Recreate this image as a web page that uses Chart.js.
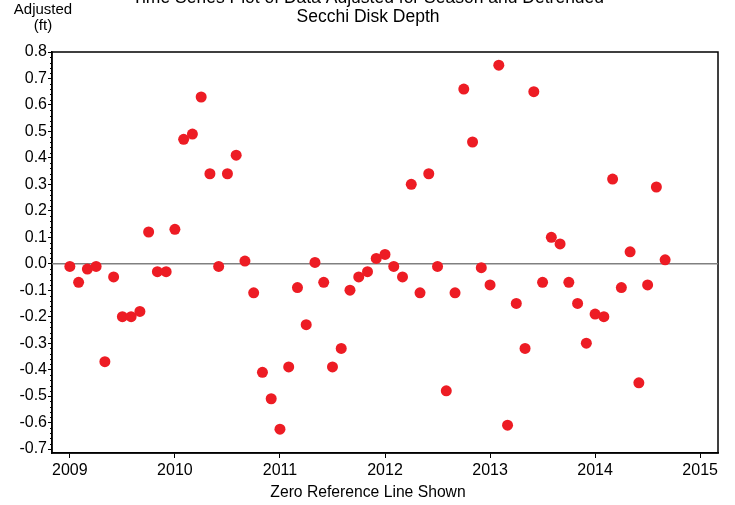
<!DOCTYPE html>
<html lang="en">
<head>
<meta charset="UTF-8">
<title>Secchi Disk Depth</title>
<style>
  body { margin: 0; background: #fff; }
  #wrap { width: 735px; height: 505px; }
</style>
</head>
<body>
<div id="wrap"><canvas id="chart" width="735" height="505"></canvas></div>
<script src="https://cdn.jsdelivr.net/npm/chart.js@4"></script>
<script>
// monthly samples, adjusted for season and detrended (ft)
const months = [
  '2009-01','2009-02','2009-03','2009-04','2009-05','2009-06','2009-07','2009-08','2009-09','2009-10','2009-11','2009-12',
  '2010-01','2010-02','2010-03','2010-04','2010-05','2010-06','2010-07','2010-08','2010-09','2010-10','2010-11','2010-12',
  '2011-01','2011-02','2011-03','2011-04','2011-05','2011-06','2011-07','2011-08','2011-09','2011-10','2011-11','2011-12',
  '2012-01','2012-02','2012-03','2012-04','2012-05','2012-06','2012-07','2012-08','2012-09','2012-10','2012-11','2012-12',
  '2013-01','2013-02','2013-03','2013-04','2013-05','2013-06','2013-07','2013-08','2013-09','2013-10','2013-11','2013-12',
  '2014-01','2014-02','2014-03','2014-04','2014-05','2014-06','2014-07','2014-08','2014-09'
];
const adjusted = [
  -0.01, -0.07, -0.02, -0.01, -0.37, -0.05, -0.20, -0.20, -0.18, 0.12, -0.03, -0.03,
  0.13, 0.47, 0.49, 0.63, 0.34, -0.01, 0.34, 0.41, 0.01, -0.11, -0.41, -0.51,
  -0.625, -0.39, -0.09, -0.23, 0.005, -0.07, -0.39, -0.32, -0.10, -0.05, -0.03, 0.02,
  0.035, -0.01, -0.05, 0.30, -0.11, 0.34, -0.01, -0.48, -0.11, 0.66, 0.46, -0.015,
  -0.08, 0.75, -0.61, -0.15, -0.32, 0.65, -0.07, 0.10, 0.075, -0.07, -0.15, -0.30,
  -0.19, -0.20, 0.32, -0.09, 0.045, -0.45, -0.08, 0.29, 0.015
];
const xTicks = [2009, 2010, 2011, 2012, 2013, 2014, 2015];
const yTicks = [-0.7, -0.6, -0.5, -0.4, -0.3, -0.2, -0.1, 0.0, 0.1, 0.2, 0.3, 0.4, 0.5, 0.6, 0.7, 0.8];
const titleLines = ['Time Series Plot of Data Adjusted for Season and Detrended', 'Secchi Disk Depth'];
const yLabel = ['Adjusted', '(ft)'];
const xLabel = 'Zero Reference Line Shown';

const FONT = "'Liberation Sans', Arial, sans-serif";
Chart.defaults.font.family = FONT;
Chart.defaults.color = '#000';

const xMin = 2008.83, xMax = 2015.17;
const yMin = -0.715, yMax = 0.8;

// decimal year from 'YYYY-MM'
function toYear(s) {
  const p = s.split('-');
  return +p[0] + (+p[1] - 1) / 12;
}
const points = months.map((m, i) => ({ x: toYear(m), y: adjusted[i] }));

// frame, minor ticks and the free text
const extras = {
  id: 'extras',
  beforeDatasetsDraw(chart) {
    const { ctx, chartArea: a } = chart;
    const ys = chart.scales.y;
    ctx.save();
    ctx.strokeStyle = '#000';
    ctx.lineWidth = 1.5;
    ctx.strokeRect(a.left, a.top, a.right - a.left, a.bottom - a.top);
    ctx.lineWidth = 1;
    for (let v = -70; v <= 80; v += 2) {
      if (v % 10 === 0) continue;
      const py = Math.round(ys.getPixelForValue(v / 100)) + 0.5;
      ctx.beginPath();
      ctx.moveTo(a.left - 2, py);
      ctx.lineTo(a.left, py);
      ctx.stroke();
    }
    ctx.restore();
  },
  afterDraw(chart) {
    const ctx = chart.ctx;
    ctx.save();
    ctx.fillStyle = '#000';
    ctx.textAlign = 'center';
    ctx.textBaseline = 'middle';
    ctx.font = '17.5px ' + FONT;
    ctx.fillText(titleLines[0], 368, -2);
    ctx.fillText(titleLines[1], 368, 17);
    ctx.font = '15px ' + FONT;
    ctx.fillText(yLabel[0], 43, 10);
    ctx.fillText(yLabel[1], 43, 26);
    ctx.font = '15.7px ' + FONT;
    ctx.fillText(xLabel, 368, 493);
    ctx.restore();
  }
};

new Chart(document.getElementById('chart'), {
  data: {
    datasets: [
      {
        type: 'scatter',
        data: points,
        backgroundColor: '#ED1C24',
        borderColor: '#ED1C24',
        borderWidth: 0,
        pointRadius: 5.5,
        order: 1
      },
      {
        type: 'line',
        data: [{ x: xMin, y: 0 }, { x: xMax, y: 0 }],
        borderColor: '#808080',
        borderWidth: 1.5,
        pointRadius: 0,
        order: 2
      }
    ]
  },
  options: {
    responsive: false,
    animation: false,
    devicePixelRatio: 1,
    layout: { padding: { left: 0, right: 17, top: 52, bottom: 0 } },
    plugins: { legend: { display: false }, tooltip: { enabled: false } },
    scales: {
      x: {
        type: 'linear',
        min: xMin,
        max: xMax,
        afterBuildTicks: s => { s.ticks = xTicks.map(v => ({ value: v })); },
        afterFit: s => { s.height = 52; },
        grid: { display: true, drawOnChartArea: false, tickLength: 5, color: '#000', lineWidth: 1 },
        border: { display: true, color: '#000', width: 1.5 },
        ticks: { font: { size: 16 }, padding: 3, maxRotation: 0, callback: v => String(v) }
      },
      y: {
        type: 'linear',
        min: yMin,
        max: yMax,
        afterBuildTicks: s => { s.ticks = yTicks.map(v => ({ value: v })); },
        afterFit: s => { s.width = 52; },
        grid: { display: true, drawOnChartArea: false, tickLength: 4, color: '#000', lineWidth: 1 },
        border: { display: true, color: '#000', width: 1.5 },
        ticks: { font: { size: 16 }, padding: 1, callback: v => v.toFixed(1) }
      }
    }
  },
  plugins: [extras]
});
</script>
</body>
</html>
